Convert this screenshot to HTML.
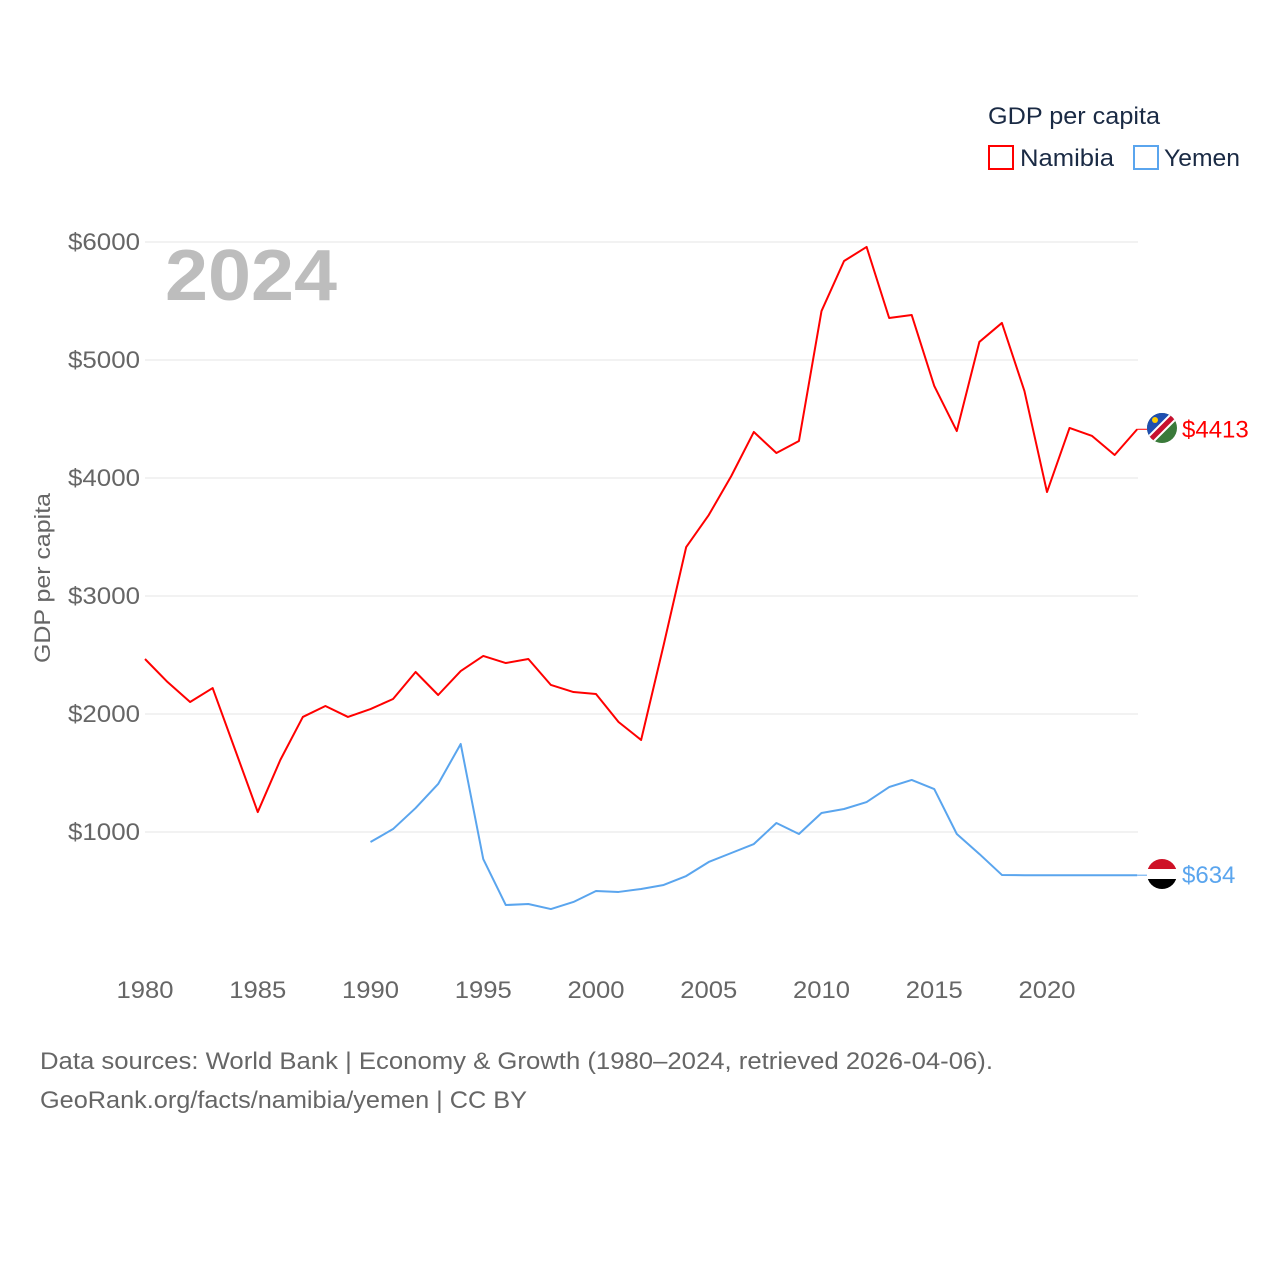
<!DOCTYPE html>
<html><head><meta charset="utf-8"><style>
body{margin:0;background:#fff;font-family:"Liberation Sans",sans-serif;}
svg text{font-family:"Liberation Sans",sans-serif;}
</style></head><body>
<svg id="chart" width="1280" height="1280" xmlns="http://www.w3.org/2000/svg">
<g id="grid"></g>
<g id="yticks"></g>
<g id="xticks"></g>
<text x="165" y="300" font-size="72" font-weight="bold" fill="#bdbdbd" textLength="172" lengthAdjust="spacingAndGlyphs">2024</text>
<text transform="translate(50,578) rotate(-90)" text-anchor="middle" font-size="22" fill="#666" textLength="170" lengthAdjust="spacingAndGlyphs">GDP per capita</text>
<g id="series"></g>
<g>
<text x="988" y="124" font-size="24" fill="#1a2a44" textLength="172" lengthAdjust="spacingAndGlyphs">GDP per capita</text>
<g><rect x="989" y="146" width="24" height="23" fill="none" stroke="#f00" stroke-width="2"/><text x="1020" y="166" font-size="24" fill="#1a2a44" textLength="94" lengthAdjust="spacingAndGlyphs">Namibia</text></g>
<g><rect x="1134" y="146" width="24" height="23" fill="none" stroke="#5aa5ee" stroke-width="2"/><text x="1164" y="166" font-size="24" fill="#1a2a44" textLength="76" lengthAdjust="spacingAndGlyphs">Yemen</text></g>
</g>
<g>
<clipPath id="cn"><circle cx="1162" cy="428" r="15"/></clipPath>
<g clip-path="url(#cn)"><rect x="1147" y="413" width="30" height="30" fill="#3a7a3a"/><polygon points="1147,413 1177,413 1147,443" fill="#1f4fb0"/><line x1="1147" y1="443" x2="1177" y2="413" stroke="#fff" stroke-width="9"/><line x1="1147" y1="443" x2="1177" y2="413" stroke="#c8102e" stroke-width="5"/><circle cx="1155" cy="420" r="3" fill="#ffce00"/></g>
</g>
<g>
<clipPath id="cy"><circle cx="1162" cy="874" r="15"/></clipPath>
<g clip-path="url(#cy)"><rect x="1147" y="859" width="30" height="10" fill="#ce1126"/><rect x="1147" y="869" width="30" height="10" fill="#fff"/><rect x="1147" y="879" width="30" height="10" fill="#000"/></g>
</g>
<text x="40" y="1069" font-size="24" fill="#666" textLength="953" lengthAdjust="spacingAndGlyphs">Data sources: World Bank | Economy &amp; Growth (1980–2024, retrieved 2026-04-06).</text>
<text x="40" y="1108" font-size="24" fill="#666" textLength="487" lengthAdjust="spacingAndGlyphs">GeoRank.org/facts/namibia/yemen | CC BY</text>
</svg>
<script>
const yTicks=[1000,2000,3000,4000,5000,6000];
const xTicks=[1980,1985,1990,1995,2000,2005,2010,2015,2020];
const namibiaYears=[];for(let y=1980;y<=2024;y++)namibiaYears.push(y);
const namibiaValues=[2466,2271,2102,2220,1695,1169,1610,1975,2068,1975,2042,2127,2356,2161,2364,2492,2432,2466,2246,2186,2169,1932,1780,2585,3415,3686,4017,4390,4212,4314,5415,5839,5958,5356,5381,4780,4398,5153,5314,4737,3881,4424,4356,4195,4413];
const yemenYears=[];for(let y=1990;y<=2024;y++)yemenYears.push(y);
const yemenValues=[915,1025,1203,1407,1746,771,381,390,347,407,500,492,517,551,627,746,822,898,1076,983,1161,1195,1254,1381,1441,1364,983,814,636,634,634,634,634,634,634];
const NS="http://www.w3.org/2000/svg";
const xS=v=>145+(v-1980)*(1047-145)/40;
const yS=v=>950-v*0.118;
function mk(tag,attrs,parent){const e=document.createElementNS(NS,tag);for(const k in attrs)e.setAttribute(k,attrs[k]);parent.appendChild(e);return e;}
const grid=document.getElementById('grid'),yt=document.getElementById('yticks'),xt=document.getElementById('xticks'),ser=document.getElementById('series');
yTicks.forEach(v=>{
 const l=mk('line',{x1:145,x2:1138,y1:yS(v),y2:yS(v),stroke:'#e6e6e6','stroke-width':1},grid);
 
 
 const t=mk('text',{x:140,y:yS(v)+8,'text-anchor':'end','font-size':24,fill:'#666',textLength:72,lengthAdjust:'spacingAndGlyphs'},yt);t.textContent='$'+v;
 
 
});
xTicks.forEach(v=>{
 const t=mk('text',{x:xS(v),y:998,'text-anchor':'middle','font-size':24,fill:'#666',textLength:57,lengthAdjust:'spacingAndGlyphs'},xt);t.textContent=v;
 
 
});
function line(years,vals,color,name){
 const p=mk('polyline',{points:years.map((y,i)=>xS(y)+','+yS(vals[i])).join(' '),fill:'none',stroke:color,'stroke-width':2,'stroke-linejoin':'round'},ser);
 
 
 const last=vals[vals.length-1];
 const c=mk('line',{x1:xS(years[years.length-1]),x2:1147,y1:yS(last),y2:yS(last),stroke:color,'stroke-width':1},ser);
 
 
 const t=mk('text',{x:1182,y:yS(last)+8,'font-size':24,fill:color},ser);t.textContent='$'+last;
 
 
}
line(namibiaYears,namibiaValues,'#ff0000','namibia');
line(yemenYears,yemenValues,'#5aa5ee','yemen');
</script>
</body></html>
